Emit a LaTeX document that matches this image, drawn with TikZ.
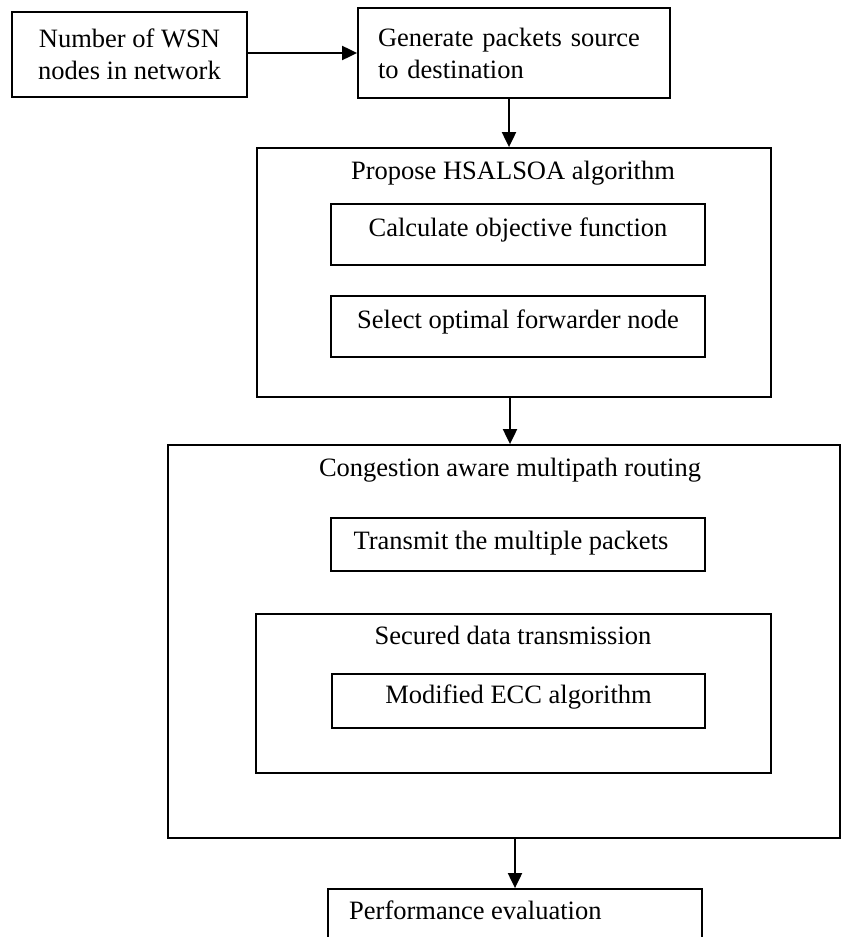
\documentclass[tikz,border=0pt]{standalone}
\usepackage{fontspec}
\setmainfont{Liberation Serif}
\usetikzlibrary{arrows.meta}
\begin{document}
\begin{tikzpicture}[x=1pt,y=-1pt,
  every node/.style={font=\fontsize{26.5}{32}\selectfont, inner sep=0pt},
  box/.style={draw, line width=1.8pt, rectangle},
  tx/.style={text height=0.7em, text depth=0.22em},
  arr/.style={line width=2pt, -{Triangle[length=15pt,width=14pt]}}]
\useasboundingbox (0,0) rectangle (842,937);
\clip (0,0) rectangle (842,937);
\fill[white] (0,0) rectangle (842,937);

% top row
\node[box, minimum width=235pt, minimum height=85pt, align=center] (b1) at (129.5,54.5) {Number of WSN\\nodes in network};
\node[box, text width=272pt, inner xsep=20pt, inner ysep=0pt, minimum height=90pt, align=left] (b2) at (514,53) {Generate packets source\\to destination};

% HSALSOA block
\node[box, minimum width=514pt, minimum height=249pt] (b3) at (514,272.5) {};
\node[tx] (b3t) at (513,176.6) {Propose HSALSOA algorithm};
\node[box, tx, minimum width=374pt, minimum height=61pt] (ca) at (518,234.5) {Calculate objective function};
\node[box, tx, minimum width=374pt, minimum height=61pt] (so) at (518,326.5) {Select optimal forwarder node};

% Congestion aware block
\node[box, minimum width=672pt, minimum height=393pt] (b4) at (504,641.5) {};
\node[tx] (b4t) at (510,473.6) {Congestion aware multipath routing};
\node[box, minimum width=374pt, minimum height=53pt] (tm) at (518,544.5) {};
\node[tx] (tmt) at (511,546.6) {Transmit the multiple packets};
\node[box, minimum width=515pt, minimum height=159pt] (sd) at (513.5,693.5) {};
\node[tx] (sdt) at (513,641.6) {Secured data transmission};
\node[box, tx, minimum width=373pt, minimum height=54pt] (ecc) at (518.5,701) {Modified ECC algorithm};

% Performance evaluation
\node[box, minimum width=374pt, minimum height=72pt] (b5) at (515,925) {};
\node[tx, anchor=west] (b5t) at (349,916.6) {Performance evaluation};

% connectors
\draw[arr] (b1.east |- b2.west) -- (b2.west);
\draw[arr] ([xshift=-5pt]b2.south) -- ([xshift=-5pt]b2.south |- b3.north);
\draw[arr] ([xshift=-4pt]b3.south) -- ([xshift=-4pt]b3.south |- b4.north);
\draw[arr] (b5.north |- b4.south) -- (b5.north);
\end{tikzpicture}
\end{document}
